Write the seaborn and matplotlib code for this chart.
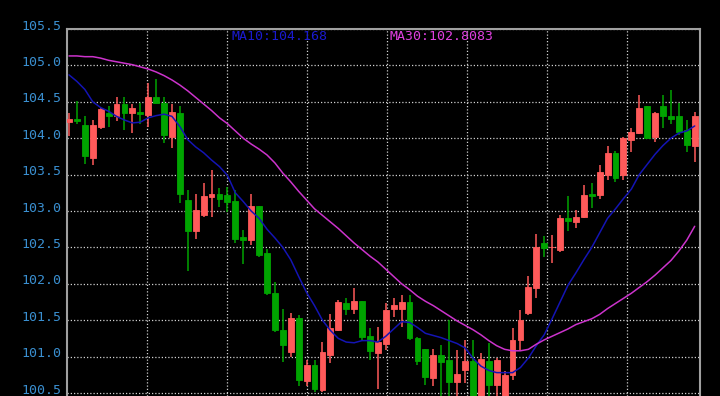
import numpy as np
import pandas as pd
import matplotlib
matplotlib.use("Agg")
import matplotlib.pyplot as plt
import matplotlib.transforms as mtransforms
import seaborn as sns

# ---- data ----
opens = [104.22, 104.27, 104.18, 103.73, 104.16, 104.34, 104.30, 104.47, 104.34, 104.36,
         104.32, 104.57, 104.49, 104.02, 104.35, 103.15, 102.73, 102.95, 103.19, 103.24,
         103.22, 103.14, 102.64, 102.60, 103.07, 102.43, 101.87, 101.37, 101.07, 101.53,
         100.66, 100.89, 100.54, 101.02, 101.37, 101.73, 101.66, 101.76, 101.28, 101.05,
         101.18, 101.65, 101.66, 101.75, 101.25, 101.11, 100.70, 101.02, 100.96, 100.65,
         100.82, 100.94, 100.45, 100.94, 100.61, 100.40, 100.75, 101.23, 101.60, 101.94,
         102.56, 102.50, 102.46, 102.91, 102.85, 102.92, 103.24, 103.22, 103.49, 103.79,
         103.49, 103.97, 104.07, 104.44, 104.02, 104.44, 104.30, 104.30, 104.11, 103.89]
closes = [104.27, 104.23, 103.75, 104.18, 104.40, 104.30, 104.47, 104.35, 104.42, 104.33,
          104.57, 104.49, 104.04, 104.36, 103.23, 102.73, 103.02, 103.20, 103.24, 103.16,
          103.12, 102.62, 102.60, 103.07, 102.40, 101.88, 101.36, 101.16, 101.53, 100.68,
          100.89, 100.55, 101.07, 101.39, 101.75, 101.66, 101.77, 101.27, 101.08, 101.20,
          101.64, 101.71, 101.75, 101.25, 100.94, 100.72, 101.02, 100.92, 100.65, 100.76,
          100.94, 100.42, 100.97, 100.61, 100.96, 100.75, 101.23, 101.50, 101.96, 102.51,
          102.49, 102.51, 102.90, 102.86, 102.92, 103.22, 103.21, 103.53, 103.79, 103.46,
          104.00, 104.09, 104.42, 104.00, 104.34, 104.30, 104.26, 104.09, 103.91, 104.30]
highs = [104.34, 104.51, 104.30, 104.25, 104.41, 104.44, 104.56, 104.57, 104.47, 104.48,
         104.76, 104.81, 104.56, 104.47, 104.44, 103.29, 103.24, 103.39, 103.56, 103.32,
         103.33, 103.29, 102.74, 103.24, 103.07, 102.48, 102.02, 101.65, 101.60, 101.57,
         100.95, 100.95, 101.20, 101.59, 101.78, 101.80, 101.94, 101.76, 101.39, 101.41,
         101.73, 101.80, 101.85, 101.85, 101.27, 101.11, 101.11, 101.16, 101.50, 101.09,
         101.23, 101.23, 101.05, 101.19, 100.98, 100.80, 101.39, 101.64, 102.11, 102.69,
         102.65, 102.67, 102.95, 103.20, 103.01, 103.36, 103.38, 103.63, 103.89, 103.83,
         104.02, 104.14, 104.59, 104.44, 104.36, 104.59, 104.66, 104.48, 104.25, 104.36]
lows = [104.03, 104.20, 103.65, 103.63, 104.13, 104.15, 104.23, 104.11, 104.07, 104.20,
        104.15, 104.48, 103.93, 103.86, 103.11, 102.17, 102.62, 102.92, 102.92, 103.06,
        102.99, 102.56, 102.27, 102.53, 102.37, 101.84, 101.34, 100.93, 100.99, 100.59,
        100.59, 100.51, 100.52, 100.91, 101.35, 101.57, 101.59, 101.23, 100.96, 100.56,
        101.09, 101.55, 101.41, 101.23, 100.88, 100.61, 100.59, 100.40, 100.40, 100.40,
        100.64, 100.35, 100.40, 100.40, 100.45, 100.35, 100.68, 101.09, 101.57, 101.80,
        102.37, 102.28, 102.44, 102.72, 102.76, 102.90, 103.04, 103.16, 103.43, 103.40,
        103.43, 103.81, 104.06, 103.99, 103.95, 104.14, 104.20, 104.04, 103.81, 103.68]
ma10 = [104.87, 104.78, 104.67, 104.50, 104.42, 104.37, 104.30, 104.25, 104.21, 104.22,
        104.28, 104.31, 104.33, 104.30, 104.16, 103.98, 103.88, 103.80, 103.70, 103.61,
        103.49, 103.25, 103.13, 103.00, 102.90, 102.75, 102.63, 102.50, 102.33, 102.10,
        101.88, 101.70, 101.50, 101.36, 101.25, 101.20, 101.19, 101.22, 101.22, 101.20,
        101.28, 101.38, 101.48, 101.47, 101.40, 101.32, 101.29, 101.26, 101.22, 101.18,
        101.12, 100.98, 100.87, 100.81, 100.78, 100.78, 100.78, 100.85, 100.98, 101.15,
        101.30, 101.52, 101.75, 101.98, 102.15, 102.33, 102.50, 102.70, 102.90, 103.03,
        103.17, 103.30, 103.50, 103.64, 103.78, 103.90, 104.00, 104.07, 104.10, 104.168]
ma30 = [105.13, 105.13, 105.12, 105.12, 105.10, 105.07, 105.05, 105.03, 105.01, 104.98,
        104.95, 104.91, 104.86, 104.80, 104.73, 104.65, 104.56, 104.47, 104.38, 104.28,
        104.20, 104.10, 104.00, 103.92, 103.85, 103.77, 103.66, 103.52, 103.40, 103.27,
        103.15, 103.03, 102.94, 102.85, 102.76, 102.66, 102.56, 102.47, 102.38, 102.30,
        102.20, 102.10, 102.00, 101.92, 101.83, 101.76, 101.70, 101.63, 101.56, 101.49,
        101.43, 101.37, 101.30, 101.22, 101.15, 101.10, 101.08, 101.08, 101.10, 101.17,
        101.23, 101.28, 101.33, 101.38, 101.44, 101.48, 101.52, 101.58, 101.66, 101.73,
        101.80, 101.87, 101.95, 102.03, 102.12, 102.22, 102.32, 102.45, 102.60, 102.79]
y_ticks = [100.5, 101.0, 101.5, 102.0, 102.5, 103.0, 103.5, 104.0, 104.5, 105.0, 105.5]
ma10_label = "MA10:104.168"
ma30_label = "MA30:102.8083"

# ---- styling ----
sns.set_theme(style="dark")
plt.rcParams["font.family"] = ["DejaVu Sans Mono", "DejaVu Sans"]

UP = "#ff5a5a"
DOWN = "#00a400"
MA10_C = "#1414b4"
MA30_C = "#cc33cc"

fig = plt.figure(figsize=(7.2, 3.96), dpi=100, facecolor="black")
ax = fig.add_axes([66.7 / 720, 0.0, 633.3 / 720, 367.0 / 396])
ax.set_facecolor("black")

df = pd.DataFrame({"idx": np.arange(len(opens)), "open": opens, "close": closes,
                   "high": highs, "low": lows, "ma10": ma10, "ma30": ma30})
df["up"] = df["close"] >= df["open"]
cols = np.where(df["up"], UP, DOWN)

ax.vlines(df["idx"], df["low"], df["high"], colors=cols, lw=1.1, zorder=3)
bottoms = df[["open", "close"]].min(axis=1)
heights = (df["close"] - df["open"]).abs()
ax.bar(df["idx"], heights, bottom=bottoms, width=0.74, color=cols,
       edgecolor=cols, linewidth=0.6, zorder=4)

sns.lineplot(data=df, x="idx", y="ma10", color=MA10_C, lw=1.1, ax=ax, zorder=5)
sns.lineplot(data=df, x="idx", y="ma30", color=MA30_C, lw=1.1, ax=ax, zorder=5)

xmin, xmax = -0.29, 79.67
ax.set_xlim(xmin, xmax)
ax.set_ylim(100.459, 105.5)

step = (xmax - xmin) * 80.0 / 633.3
ax.set_xticks([xmin + step * k for k in range(1, 8)])
ax.set_xticklabels([])
ax.set_yticks(y_ticks)
ax.set_yticklabels([f"{v:.1f}" for v in y_ticks])
ax.set_xlabel("")
ax.set_ylabel("")

ax.grid(True, color="#d0d0d0", linestyle=(0, (1, 1.6)), lw=0.9, zorder=1)
ax.tick_params(axis="x", length=0, bottom=False, labelbottom=False)
ax.tick_params(axis="y", length=0, pad=3.5, labelsize=9.5, labelcolor="#3a8fd0")

offset = mtransforms.ScaledTranslation(0, 4.5 / 100, fig.dpi_scale_trans)
for lbl in ax.get_yticklabels():
    lbl.set_transform(lbl.get_transform() + offset)

for side in ("left", "top", "right"):
    ax.spines[side].set_visible(True)
    ax.spines[side].set_color("#a0a0a0")
    ax.spines[side].set_linewidth(1.5)
ax.spines["bottom"].set_visible(False)

fig.text(231 / 720, 1 - 37 / 396, ma10_label, color="#1a1ad0", fontsize=9.5,
         ha="left", va="center")
fig.text(390 / 720, 1 - 37 / 396, ma30_label, color="#e040e0", fontsize=9.5,
         ha="left", va="center")

fig.savefig("out.png", dpi=100, facecolor="black")
